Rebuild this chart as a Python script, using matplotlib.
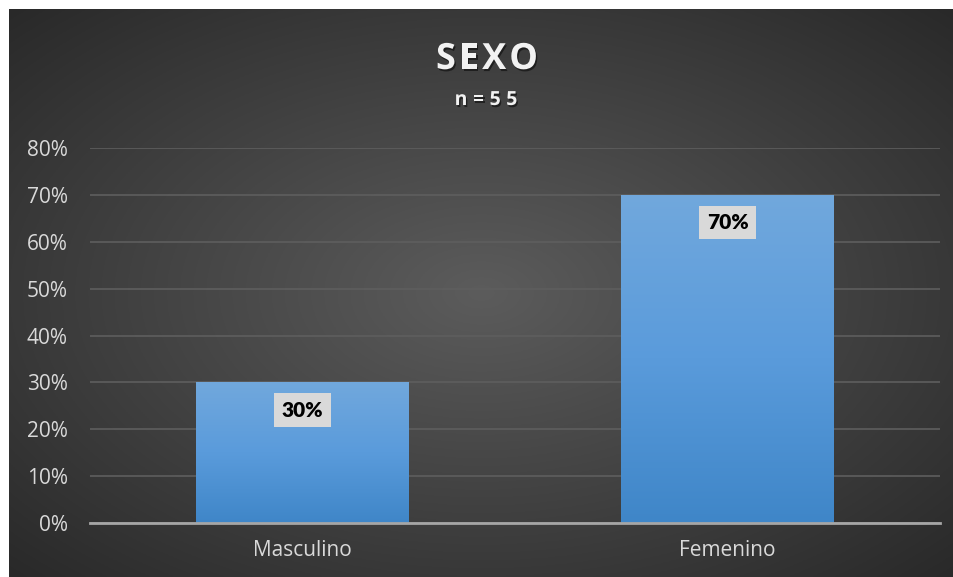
import numpy as np
import matplotlib.pyplot as plt
import matplotlib.patheffects as pe
from matplotlib.ticker import PercentFormatter
from matplotlib.colors import LinearSegmentedColormap

# data
categorias = ["Masculino", "Femenino"]
porcentajes = [30, 70]
titulo = "SEXO"
subtitulo = "n=55"

plt.rcParams['font.family'] = ['Open Sans', 'DejaVu Sans']

fig = plt.figure(figsize=(9.54, 5.77), dpi=100)
fig.patch.set_facecolor("white")

# dark radial background (starts a few px in from top-left like the original)
bg = fig.add_axes([9 / 954, 0, 945 / 954, 568 / 577])
bg.set_axis_off()
yy, xx = np.mgrid[0:1:300j, 0:1:500j]
r = np.sqrt(((xx - 0.5) / 0.75) ** 2 + ((yy - 0.5) / 0.75) ** 2)
r = np.clip(r, 0, 1)
light = np.array([0x5c, 0x5c, 0x5c]) / 255
dark = np.array([0x26, 0x26, 0x26]) / 255
img = light[None, None, :] * (1 - r[..., None]) + dark[None, None, :] * r[..., None]
bg.imshow(img, extent=[0, 1, 0, 1], aspect="auto")
bg.set_xlim(0, 1)
bg.set_ylim(0, 1)

ax = fig.add_axes([90 / 954, 54 / 577, 850 / 954, 375 / 577])
ax.set_facecolor("none")
ax.set_zorder(2)

x = np.arange(len(categorias))
bars = ax.bar(x, porcentajes, width=0.5, color="#5b9bd5", zorder=2)

# vertical gradient in each bar
grad = np.linspace(0, 1, 256)[:, None]
cmap = LinearSegmentedColormap.from_list("azul", ["#3f86c8", "#5a9bdb", "#71a8dd"])
for b in bars:
    x0, y0 = b.get_x(), b.get_y()
    w, h = b.get_width(), b.get_height()
    im = ax.imshow(grad, cmap=cmap, extent=[x0, x0 + w, y0, y0 + h],
                   origin="lower", aspect="auto", zorder=2.1)
    im.set_clip_path(b)

for xi, v in zip(x, porcentajes):
    ax.annotate(f"{v}%", (xi, v), xytext=(0, -20), textcoords="offset points",
                ha="center", va="center", fontsize=15, fontweight="heavy",
                family=["Lato", "DejaVu Sans"], color="black", zorder=4,
                bbox=dict(boxstyle="square,pad=0.35", fc="#d9d9d9", ec="none"))

ax.set_xlim(-0.5, 1.5)
ax.set_ylim(0, 80)
ax.set_yticks(range(0, 81, 10))
ax.yaxis.set_major_formatter(PercentFormatter(decimals=0))
ax.set_xticks(x)
ax.set_xticklabels(categorias)
ax.tick_params(axis="both", length=0, colors="#d9d9d9", labelsize=15)
ax.tick_params(axis="y", pad=16)
ax.tick_params(axis="x", pad=12)
ax.grid(axis="y", color="#5e5e5e", linewidth=1.2, zorder=0)
ax.set_axisbelow(True)
for s in ["top", "right", "left"]:
    ax.spines[s].set_visible(False)
ax.spines["bottom"].set_color("#a6a6a6")
ax.spines["bottom"].set_linewidth(2)
ax.spines["bottom"].set_zorder(3)

shadow = [pe.withSimplePatchShadow(offset=(1, -1.5), shadow_rgbFace="black", alpha=0.5)]


def texto_espaciado(s, cx, cy, size, extra):
    # draw characters one by one with extra letter spacing (in pixels)
    r = fig.canvas.get_renderer()
    widths = []
    for ch in s:
        t = fig.text(0, 0, ch, fontsize=size, fontweight="bold")
        widths.append(t.get_window_extent(r).width)
        t.remove()
    total = sum(widths) + extra * (len(s) - 1)
    px = cx - total / 2
    for ch, w in zip(s, widths):
        fig.text(px / 954, cy, ch, ha="left", va="center", fontsize=size,
                 fontweight="bold", color="#f2f2f2", path_effects=shadow)
        px += w + extra


texto_espaciado(titulo, 487, 1 - 60 / 577, 26, 3)
texto_espaciado(subtitulo, 486, 1 - 100 / 577, 14, 5.5)

fig.savefig("out.png", dpi=100, facecolor=fig.get_facecolor())
